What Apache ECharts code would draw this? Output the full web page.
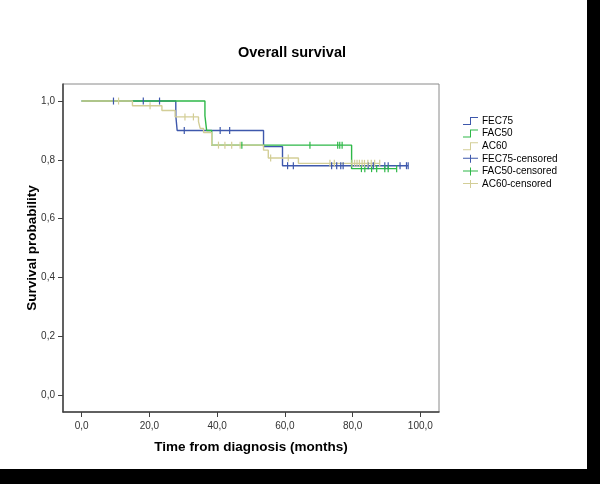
<!DOCTYPE html>
<html>
<head>
<meta charset="utf-8">
<script src="https://cdn.jsdelivr.net/npm/echarts@6/dist/echarts.min.js"></script>
<style>
html,body{margin:0;padding:0;background:#000;}
#bg{position:absolute;left:0;top:0;width:587px;height:469px;background:#fff;}
#chart{position:absolute;left:0;top:0;width:600px;height:484px;}
</style>
</head>
<body>
<div id="bg"></div>
<div id="chart"></div>
<script>
// ---- data ----
const chartTitle = 'Overall survival';
const xAxisTitle = 'Time from diagnosis (months)';
const yAxisTitle = 'Survival probability';
const xTicks = [0, 20, 40, 60, 80, 100];
const yTicks = [0, 0.2, 0.4, 0.6, 0.8, 1.0];
const groupNames = ['FEC75', 'FAC50', 'AC60'];

const fec75StepTimes = [0, 27.8, 28.2, 53.7, 59.3, 96.4];
const fec75StepSurv  = [1.0, 0.95, 0.90, 0.845, 0.78, 0.78];
const fec75CensorTimes = [9.4, 18.2, 23.0, 30.3, 40.9, 43.7, 60.8, 62.5, 73.8, 75.3, 76.5, 77.2, 84.6, 86.1, 89.5, 90.5, 94.0, 95.9, 96.4];

const fac50StepTimes = [0, 36.4, 36.9, 38.4, 79.7, 93.0];
const fac50StepSurv  = [1.0, 0.95, 0.90, 0.85, 0.77, 0.77];
const fac50CensorTimes = [47.3, 67.4, 75.6, 76.2, 76.9, 82.6, 83.6, 85.6, 87.1, 89.5, 90.5, 93.0];

const ac60StepTimes = [0, 15.0, 23.7, 27.6, 34.5, 35.0, 36.0, 38.4, 53.7, 55.1, 64.0, 88.0];
const ac60StepSurv  = [1.0, 0.984, 0.968, 0.946, 0.93, 0.907, 0.893, 0.85, 0.833, 0.806, 0.788, 0.788];
const ac60CensorTimes = [10.9, 20.2, 30.5, 33.0, 40.4, 42.3, 44.3, 46.8, 55.8, 61.0, 73.3, 74.6, 79.8, 80.6, 81.3, 82.0, 82.8, 83.5, 84.5, 85.5, 86.5, 88.0];

// ---- helpers ----
function pairs(xs, ys) { return xs.map((x, i) => [x, ys[i]]); }
function levelAt(times, surv, t) {
  let v = surv[0];
  for (let i = 0; i < times.length; i++) { if (times[i] <= t) v = surv[i]; }
  return v;
}
function censorPoints(times, surv, cTimes) { return cTimes.map(t => [t, levelAt(times, surv, t)]); }
function fmt(v) { return v.toFixed(1).replace('.', ','); }

const colors = ['#3E58AC', '#2EB848', '#D3CE97'];
const stepIcon = 'path://M0,7 L7,7 L7,0 L15,0 L15,1 L8,1 L8,8 L0,8 Z';
const plusIcon = 'path://M0,3 L15,3 L15,4 L0,4 Z M7,0 L8,0 L8,8 L7,8 Z';

const steps = [
  pairs(fec75StepTimes, fec75StepSurv),
  pairs(fac50StepTimes, fac50StepSurv),
  pairs(ac60StepTimes, ac60StepSurv)
];
const censors = [
  censorPoints(fec75StepTimes, fec75StepSurv, fec75CensorTimes),
  censorPoints(fac50StepTimes, fac50StepSurv, fac50CensorTimes),
  censorPoints(ac60StepTimes, ac60StepSurv, ac60CensorTimes)
];

const series = [];
groupNames.forEach((n, i) => {
  series.push({
    name: n, type: 'line', step: 'end', data: steps[i], showSymbol: false,
    lineStyle: { color: colors[i], width: 1.4 }, itemStyle: { color: colors[i] },
    silent: true, z: 2 + i
  });
});
groupNames.forEach((n, i) => {
  series.push({
    name: n + '-censored', type: 'scatter', data: censors[i],
    symbol: 'rect', symbolSize: [1.2, 7],
    itemStyle: { color: colors[i], opacity: 1 }, silent: true, z: 6 + i
  });
});

const legendData = groupNames.map((n, i) => ({ name: n, icon: stepIcon, itemStyle: { color: colors[i], borderWidth: 0 } }))
  .concat(groupNames.map((n, i) => ({ name: n + '-censored', icon: plusIcon, itemStyle: { color: colors[i], borderWidth: 0, opacity: 1 } })));

const font = 'Liberation Sans, Arial, sans-serif';
const chart = echarts.init(document.getElementById('chart'), null, { renderer: 'canvas' });
chart.setOption({
  animation: false,
  backgroundColor: 'transparent',
  title: {
    text: chartTitle, left: 287, top: 40, textAlign: 'center',
    textStyle: { fontFamily: font, fontSize: 14.5, fontWeight: 'bold', color: '#000' }
  },
  legend: {
    orient: 'vertical', left: 458, top: 110, itemWidth: 15, itemHeight: 8, itemGap: 0.6,
    symbolKeepAspect: false,
    data: legendData, selectedMode: false,
    textStyle: { fontFamily: font, fontSize: 10, color: '#000', lineHeight: 12, padding: [0, 0, 0, -1] }
  },
  grid: { left: 63, top: 84, width: 376, height: 328, show: true, borderColor: '#8a8a8a', borderWidth: 1, backgroundColor: '#fff' },
  xAxis: {
    type: 'value', min: -5.5, max: 105.5,
    name: xAxisTitle, nameLocation: 'middle', nameGap: 28, nameMoveOverlap: false,
    nameTextStyle: { fontFamily: font, fontSize: 13.5, fontWeight: 'bold', color: '#000' },
    axisLine: { show: true, onZero: false, lineStyle: { color: '#404040', width: 1.5 } },
    axisTick: { show: true, length: 5, customValues: xTicks, lineStyle: { color: '#404040', width: 1 } },
    axisLabel: { customValues: xTicks, formatter: v => fmt(v), margin: 9, fontFamily: font, fontSize: 10, color: '#333' },
    splitLine: { show: false }
  },
  yAxis: {
    type: 'value', min: -0.058, max: 1.058,
    name: yAxisTitle, nameLocation: 'middle', nameGap: 24, nameMoveOverlap: false,
    nameTextStyle: { fontFamily: font, fontSize: 13.5, fontWeight: 'bold', color: '#000' },
    axisLine: { show: true, onZero: false, lineStyle: { color: '#404040', width: 1.5 } },
    axisTick: { show: true, length: 5, customValues: yTicks, lineStyle: { color: '#404040', width: 1 } },
    axisLabel: { customValues: yTicks, formatter: v => fmt(v), margin: 8, fontFamily: font, fontSize: 10, color: '#333' },
    splitLine: { show: false }
  },
  series: series
});
</script>
</body>
</html>
